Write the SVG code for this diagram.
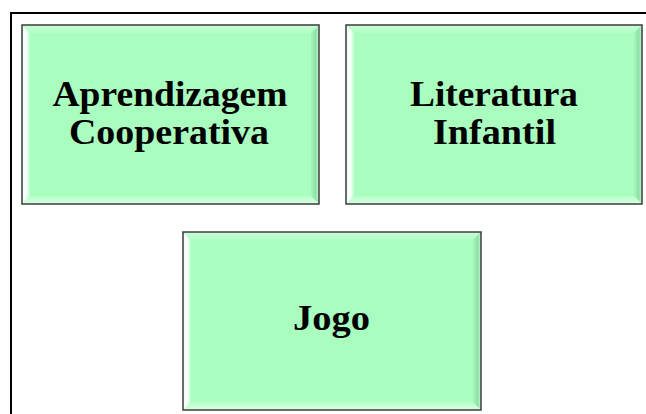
<svg xmlns="http://www.w3.org/2000/svg" width="646" height="414" viewBox="0 0 646 414">
<defs>
<linearGradient id="gL" x1="0" y1="0" x2="1" y2="0"><stop offset="0" stop-color="#e8ffee"/><stop offset="0.5" stop-color="#ffffff"/><stop offset="1" stop-color="#b6ffca"/></linearGradient>
<linearGradient id="gR" x1="0" y1="0" x2="1" y2="0"><stop offset="0" stop-color="#a4f6bb"/><stop offset="0.6" stop-color="#8ee0a6"/><stop offset="1" stop-color="#c8ffd6"/></linearGradient>
<linearGradient id="gT" x1="0" y1="0" x2="0" y2="1"><stop offset="0" stop-color="#c8ffd6"/><stop offset="1" stop-color="#b0ffc6"/></linearGradient>
<linearGradient id="gB" x1="0" y1="0" x2="0" y2="1"><stop offset="0" stop-color="#b8ffcc"/><stop offset="1" stop-color="#d8ffe2"/></linearGradient>
<style>
.bg{fill:#a8fdbf;stroke:none}
.bd{fill:none;stroke:#3c3c3c;stroke-width:1.5}
.t{font-family:"Liberation Serif","Times New Roman",serif;font-weight:bold;font-size:35px;fill:#000;text-anchor:middle}
</style>
</defs>
<rect width="646" height="414" fill="#fff"/>
<path d="M11 414 V13 H646" fill="none" stroke="#000" stroke-width="2"/>
<g id="connectors"/>
<g id="n1">
<rect class="bg" x="22" y="25" width="297" height="179"/>
<polygon points="22,25 30,33 30,196 22,204" fill="url(#gL)"/>
<polygon points="22,25 319,25 311,33 30,33" fill="url(#gT)"/>
<polygon points="319,25 319,204 311,196 311,33" fill="url(#gR)"/>
<polygon points="22,204 30,196 311,196 319,204" fill="url(#gB)"/>
<rect class="bd" x="22" y="25" width="297" height="179"/>
<text class="t" x="170" y="106" textLength="235" lengthAdjust="spacingAndGlyphs">Aprendizagem</text>
<text class="t" x="169" y="144" textLength="200" lengthAdjust="spacingAndGlyphs">Cooperativa</text>
</g>
<g id="n2">
<rect class="bg" x="346" y="25" width="296" height="179"/>
<polygon points="346,25 354,33 354,196 346,204" fill="url(#gL)"/>
<polygon points="346,25 642,25 634,33 354,33" fill="url(#gT)"/>
<polygon points="642,25 642,204 634,196 634,33" fill="url(#gR)"/>
<polygon points="346,204 354,196 634,196 642,204" fill="url(#gB)"/>
<rect class="bd" x="346" y="25" width="296" height="179"/>
<text class="t" x="494" y="106" textLength="168" lengthAdjust="spacingAndGlyphs">Literatura</text>
<text class="t" x="494.5" y="144" textLength="123" lengthAdjust="spacingAndGlyphs">Infantil</text>
</g>
<g id="n3">
<rect class="bg" x="183" y="232" width="298" height="178"/>
<polygon points="183,232 191,240 191,402 183,410" fill="url(#gL)"/>
<polygon points="183,232 481,232 473,240 191,240" fill="url(#gT)"/>
<polygon points="481,232 481,410 473,402 473,240" fill="url(#gR)"/>
<polygon points="183,410 191,402 473,402 481,410" fill="url(#gB)"/>
<rect class="bd" x="183" y="232" width="298" height="178"/>
<text class="t" x="331.5" y="330" textLength="77" lengthAdjust="spacingAndGlyphs">Jogo</text>
</g>
</svg>
